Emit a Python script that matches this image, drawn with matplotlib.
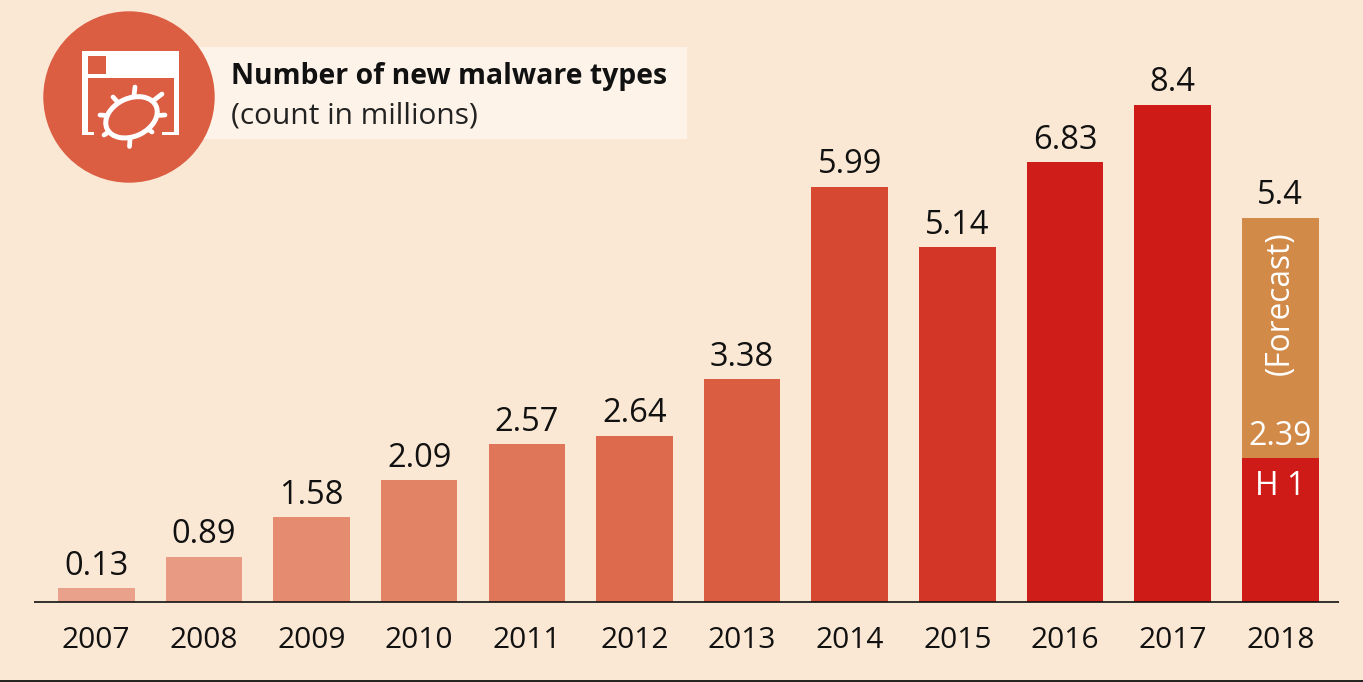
import numpy as np
import matplotlib
matplotlib.use("Agg")
import matplotlib.pyplot as plt
from matplotlib.patches import Circle, Ellipse, Rectangle

plt.rcParams['font.family'] = ['Open Sans', 'DejaVu Sans']

years = ['2007', '2008', '2009', '2010', '2011', '2012', '2013', '2014', '2015', '2016', '2017', '2018']
value_labels = ['0.13', '0.89', '1.58', '2.09', '2.57', '2.64', '3.38', '5.99', '5.14', '6.83', '8.4', '5.4']
# The reference's bars are not drawn proportionally to their labels, so the drawn
# heights are read separately from the picture.
bar_heights = [13.5, 45, 84.5, 121.5, 157.5, 166, 222.5, 415, 354.5, 439.5, 497, 384]
bar_colors = ['#E9A18B', '#E89B82', '#E58B6F', '#E28365', '#DF7659', '#DD6A4D',
              '#DA5D42', '#D64832', '#D33627', '#CF1E19', '#CE1B17', '#D28A48']
h1_height = 144
h1_color = '#CE1B17'
h1_value = '2.39'
h1_label = 'H 1'
forecast_label = '(Forecast)'
title_bold = 'Number of new malware types'
title_sub = '(count in millions)'

BG = '#FBE8D4'
W, H = 1363, 682
X0, PITCH, BASE = 96.2, 107.65, 601.7

fig = plt.figure(figsize=(W / 100, H / 100), dpi=100, facecolor=BG)

# chart axes: x = category index, y = drawn height
ax = fig.add_axes([0, 0, 1, 1])
ax.set_xlim((0 - X0) / PITCH, (W - X0) / PITCH)
ax.set_ylim(BASE - H, BASE)
ax.axis('off')
x = np.arange(len(years))
ax.bar(x, bar_heights, width=76.6 / PITCH, color=bar_colors, linewidth=0, zorder=2)
ax.bar(x[-1], h1_height, width=76.6 / PITCH, color=h1_color, linewidth=0, zorder=3)

FS = 21.5
FSV = 23.5
for xi, h, lab, yr in zip(x, bar_heights, value_labels, years):
    ax.annotate(lab, (xi, h), xytext=(0, 9.8), textcoords='offset points',
                ha='center', va='baseline', fontsize=FSV, color='#111111', zorder=5)
    ax.annotate(yr, (xi, 0), xytext=(0, -33.5), textcoords='offset points',
                ha='center', va='baseline', fontsize=FS, color='#111111', zorder=5)

ax.annotate(h1_value, (x[-1], h1_height), xytext=(0, 9.4), textcoords='offset points',
            ha='center', va='baseline', fontsize=FSV - 0.5, color='white', zorder=5)
ax.annotate(h1_label, (x[-1], h1_height), xytext=(0, -27), textcoords='offset points',
            ha='center', va='baseline', fontsize=FSV - 0.5, color='white', zorder=5)
ax.annotate(forecast_label, (x[-1], 299), ha='center', va='center', rotation=90,
            fontsize=FS + 1.2, color='white', zorder=5)

# overlay in pixel coordinates for baseline, rule and icon
ov = fig.add_axes([0, 0, 1, 1], facecolor='none')
ov.set_xlim(0, W)
ov.set_ylim(H, 0)
ov.axis('off')
ov.plot([34, 1338.5], [BASE, BASE], color='#111111', lw=1.2, solid_capstyle='butt', zorder=6)
ov.plot([0, W], [681.2, 681.2], color='#111111', lw=1.3, solid_capstyle='butt', zorder=6)

# title box
ov.add_patch(Rectangle((150, 47), 537, 92, fc='#FDF3E8', ec='none', zorder=1))
ov.text(231, 84, title_bold, fontsize=20.45, fontweight='bold', color='#111111', va='baseline', ha='left', zorder=5)
ov.text(231, 123, title_sub, fontsize=21.5, color='#222222', va='baseline', ha='left', zorder=5)

# icon
IC = '#DB5D42'
ov.add_patch(Circle((129, 97), 85.7, fc=IC, ec='none', zorder=2))
white = dict(fc='white', ec='none', zorder=3)
ov.add_patch(Rectangle((82.3, 51), 97, 27, **white))
ov.add_patch(Rectangle((87.5, 56), 18.5, 17.5, fc=IC, ec='none', zorder=4))
ov.add_patch(Rectangle((82.3, 78), 5.2, 57, **white))
ov.add_patch(Rectangle((174.3, 78), 5, 57, **white))
ov.add_patch(Rectangle((82.3, 131.5), 11.5, 3.5, **white))
ov.add_patch(Rectangle((161.5, 131.5), 17.8, 3.5, **white))
cx, cy = 131.5, 117.3
ov.add_patch(Ellipse((cx, cy), 54, 38, angle=-25, fc=IC, ec='white', lw=3.6, zorder=4))
for ex, ey in [(135, 87), (162, 94), (165, 115), (152, 132), (129.5, 146.5),
               (104, 135), (100, 115), (113, 97)]:
    v = np.array([ex - cx, ey - cy])
    s = np.array([cx, cy]) + v * 0.62
    ov.plot([s[0], ex], [s[1], ey], color='white', lw=3.4, solid_capstyle='round', zorder=3)

fig.savefig('out.png', dpi=100, facecolor=BG)
